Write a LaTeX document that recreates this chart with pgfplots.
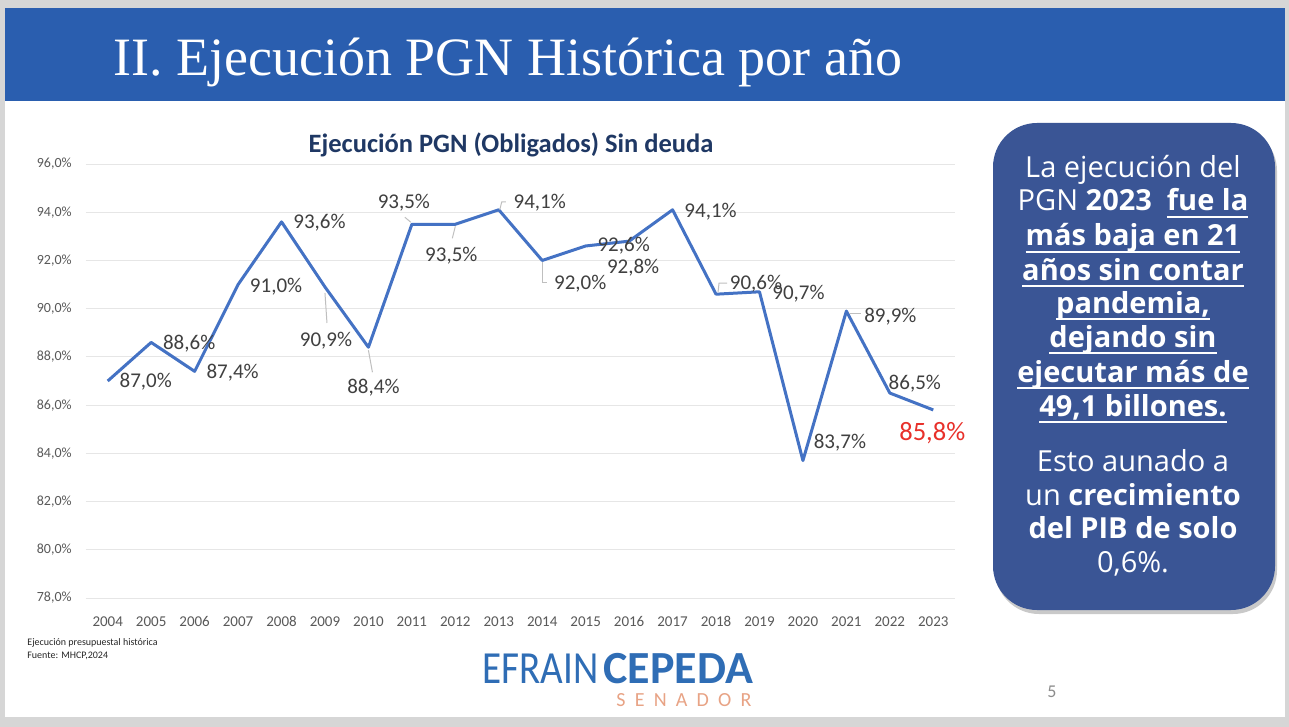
\documentclass[border=0pt]{standalone}
\usepackage{fontspec}
\setmainfont{Carlito}
\newfontfamily\boxfont{Open Sans}
\newfontfamily\titlefont{Liberation Serif}
\usepackage{pgfplots}
\pgfplotsset{compat=1.18}
\usetikzlibrary{shadows}
\definecolor{slidegrey}{HTML}{D6D6D6}
\definecolor{headblue}{HTML}{2A5EAF}
\definecolor{boxblue}{HTML}{3A5595}
\definecolor{lineblue}{HTML}{4472C4}
\definecolor{titlenavy}{HTML}{1F3864}
\definecolor{labelgrey}{HTML}{404040}
\definecolor{tickgrey}{HTML}{595959}
\definecolor{gridgrey}{HTML}{E6E6E6}
\definecolor{leadgrey}{HTML}{BFBFBF}
\definecolor{redlbl}{HTML}{E8302A}
\definecolor{logoblue}{HTML}{2F6DB5}
\definecolor{logosalmon}{HTML}{E8A385}
\newcommand\ul[1]{\setbox0\hbox{#1}\rlap{\rule[-3.5pt]{\wd0}{0.9pt}}\box0}
\begin{document}
\begin{tikzpicture}
\begin{scope}[x=0.5pt,y=-0.5pt]
\fill[slidegrey] (0,0) rectangle (1289,727);
\fill[white] (5,8) rectangle (1285,717);
\fill[headblue] (5,8) rectangle (1285,101);
\node[anchor=base west, inner sep=0pt, text=white, font=\titlefont\fontsize{27}{30}\selectfont] at (113,76) {II. Ejecución PGN Histórica por año};
% chart title
\node[anchor=base, inner sep=0pt, text=titlenavy, font=\bfseries\fontsize{13.25}{15}\selectfont] at (511,153) {Ejecución PGN (Obligados) Sin deuda};
% right box
\fill[boxblue, rounded corners=22pt, drop shadow={shadow xshift=1pt, shadow yshift=-2pt, opacity=0.35, fill=black!60}] (993,123) rectangle (1275,610);
\tikzset{boxtxt/.style={anchor=base, inner sep=0pt, text=white, font=\boxfont\fontsize{14.5}{17}\selectfont}}
\node[boxtxt] at (1133,178) {La ejecución del};
\node[boxtxt] at (1133,211) {PGN \textbf{2023}\ \ \ul{\textbf{fue la}}};
\node[boxtxt] at (1133,246) {\ul{\textbf{más baja en 21}}};
\node[boxtxt] at (1133,280) {\ul{\textbf{años sin contar}}};
\node[boxtxt] at (1133,313) {\ul{\textbf{pandemia,}}};
\node[boxtxt] at (1133,347) {\ul{\textbf{dejando sin}}};
\node[boxtxt] at (1133,382) {\ul{\textbf{ejecutar más de}}};
\node[boxtxt] at (1133,416) {\ul{\textbf{49,1 billones.}}};
\node[boxtxt] at (1133,471) {Esto aunado a};
\node[boxtxt] at (1133,505) {un \textbf{crecimiento}};
\node[boxtxt] at (1133,538) {\textbf{del PIB de solo}};
\node[boxtxt] at (1133,572) {0,6\%.};
% footer
\node[anchor=base west, inner sep=0pt, text=black!85, font=\fontsize{5}{6}\selectfont] at (27,645) {Ejecución presupuestal histórica};
\node[anchor=base west, inner sep=0pt, text=black!85, font=\fontsize{5}{6}\selectfont] at (27,658) {Fuente: MHCP,2024};
\node[anchor=base west, inner sep=0pt, text=logoblue, font=\fontsize{23}{25}\selectfont] at (482,683) {\scalebox{0.85}[1]{EFRAIN}};
\node[anchor=base west, inner sep=0pt, text=logoblue, font=\bfseries\fontsize{23}{25}\selectfont] at (603,683) {CEPEDA};
\node[anchor=base west, inner sep=0pt, text=logosalmon, font=\fontsize{10}{12}\selectfont] at (616,706) {S\hskip4.6pt E\hskip4.6pt N\hskip4.6pt A\hskip4.6pt D\hskip4.6pt O\hskip4.6pt R};
\node[anchor=base, inner sep=0pt, text=black!45, font=\fontsize{9}{10}\selectfont] at (1052,697) {5};
\end{scope}
\begin{axis}[
  at={(43pt,-299pt)}, anchor=south west,
  scale only axis, width=434.5pt, height=217pt,
  xmin=-0.5, xmax=19.5, ymin=78, ymax=96,
  xtick={0,...,19},
  xticklabels={2004,2005,2006,2007,2008,2009,2010,2011,2012,2013,2014,2015,2016,2017,2018,2019,2020,2021,2022,2023},
  ytick={78,80,...,96},
  /pgf/number format/assume math mode=true,
  yticklabel={\pgfmathprintnumber[fixed,fixed zerofill,precision=1,use comma]{\tick}\%},
  axis line style={draw=none}, major tick length=0pt,
  ymajorgrids, grid style={line width=0.5pt, draw=gridgrey},
  yticklabel style={font=\fontsize{7}{8}\selectfont, text=tickgrey, inner sep=0pt, xshift=-7pt},
  xticklabel style={font=\fontsize{7.5}{9}\selectfont, text=tickgrey, inner sep=0pt, yshift=-9pt},
  clip=false,
]
\addplot[line width=1.5pt, color=lineblue, line join=round, mark=none] coordinates {
(0,87.0) (1,88.6) (2,87.4) (3,91.0) (4,93.6) (5,90.9) (6,88.4) (7,93.5) (8,93.5) (9,94.1)
(10,92.0) (11,92.6) (12,92.8) (13,94.1) (14,90.6) (15,90.7) (16,83.7) (17,89.9) (18,86.5) (19,85.8)};
\tikzset{dl/.style={inner sep=0pt, text=labelgrey, font=\fontsize{10.5}{12}\selectfont}, ld/.style={draw=leadgrey, line width=0.5pt}}
% leader lines
\draw[ld] ([yshift=-3pt]axis cs:5,90.9) -- ([xshift=1pt,yshift=-18pt]axis cs:5,90.9);
\draw[ld] ([yshift=-1.5pt]axis cs:6,88.4) -- ([xshift=2pt,yshift=-12.5pt]axis cs:6,88.4);
\draw[ld] ([xshift=-3.5pt,yshift=3.5pt]axis cs:7,93.5) -- ([xshift=-0.5pt,yshift=1pt]axis cs:7,93.5);
\draw[ld] ([yshift=-1pt]axis cs:8,93.5) -- ([xshift=-1.5pt,yshift=-7pt]axis cs:8,93.5);
\draw[ld] ([xshift=0.5pt]axis cs:9,94.1) -- ([xshift=1.5pt,yshift=4pt]axis cs:9,94.1) -- ([xshift=3.5pt,yshift=4pt]axis cs:9,94.1);
\draw[ld] ([yshift=-1pt]axis cs:10,92.0) -- ([yshift=-11pt]axis cs:10,92.0) -- ([xshift=2.5pt,yshift=-11pt]axis cs:10,92.0);
\draw[ld] ([xshift=1pt,yshift=1pt]axis cs:14,90.6) -- ([xshift=1.5pt,yshift=5.5pt]axis cs:14,90.6) -- ([xshift=5.5pt,yshift=5.5pt]axis cs:14,90.6);
\draw[ld] ([xshift=1.5pt,yshift=-1pt]axis cs:17,89.9) -- ([xshift=7.5pt,yshift=-1pt]axis cs:17,89.9);
% data labels
\node[dl, xshift=19pt, yshift=-0.5pt] at (axis cs:0,87.0) {87,0\%};
\node[dl, xshift=19pt, yshift=-0.5pt] at (axis cs:1,88.6) {88,6\%};
\node[dl, xshift=19pt, yshift=-0.5pt] at (axis cs:2,87.4) {87,4\%};
\node[dl, xshift=19pt, yshift=-1pt] at (axis cs:3,91.0) {91,0\%};
\node[dl, xshift=19pt, yshift=-0.5pt] at (axis cs:4,93.6) {93,6\%};
\node[dl, xshift=0.5pt, yshift=-27pt] at (axis cs:5,90.9) {90,9\%};
\node[dl, xshift=2.5pt, yshift=-20pt] at (axis cs:6,88.4) {88,4\%};
\node[dl, xshift=-4pt, yshift=11pt] at (axis cs:7,93.5) {93,5\%};
\node[dl, xshift=-2pt, yshift=-15.5pt] at (axis cs:8,93.5) {93,5\%};
\node[dl, xshift=20.5pt, yshift=3.5pt] at (axis cs:9,94.1) {94,1\%};
\node[dl, xshift=19pt, yshift=-11.5pt] at (axis cs:10,92.0) {92,0\%};
\node[dl, xshift=19pt, yshift=0pt] at (axis cs:11,92.6) {92,6\%};
\node[dl, xshift=2pt, yshift=-13.5pt] at (axis cs:12,92.8) {92,8\%};
\node[dl, xshift=19pt, yshift=-1pt] at (axis cs:13,94.1) {94,1\%};
\node[dl, xshift=20pt, yshift=5.5pt] at (axis cs:14,90.6) {90,6\%};
\node[dl, xshift=19.5pt, yshift=-1pt] at (axis cs:15,90.7) {90,7\%};
\node[dl, xshift=18.5pt, yshift=9pt] at (axis cs:16,83.7) {83,7\%};
\node[dl, xshift=22pt, yshift=-3pt] at (axis cs:17,89.9) {89,9\%};
\node[dl, xshift=12.5pt, yshift=4.5pt] at (axis cs:18,86.5) {86,5\%};
\node[inner sep=0pt, text=redlbl, font=\fontsize{13.25}{15}\selectfont, xshift=-0.5pt, yshift=-11.5pt] at (axis cs:19,85.8) {85,8\%};
\end{axis}
\pgfresetboundingbox
\path (0,0) rectangle (644.5pt,-363.5pt);
\end{tikzpicture}
\end{document}
